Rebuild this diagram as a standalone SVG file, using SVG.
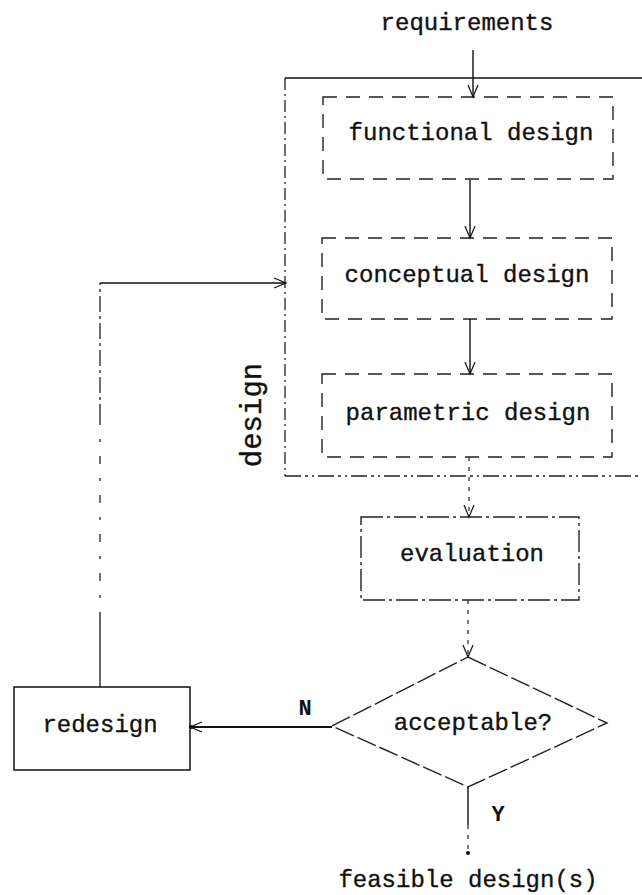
<svg xmlns="http://www.w3.org/2000/svg" width="642" height="895" viewBox="0 0 642 895">
<style>
text{font-family:"Liberation Mono","Courier New",monospace;font-size:24px;fill:#111;stroke:#111;stroke-width:0.35}
.c{text-anchor:middle}
.lbl{font-weight:bold;font-size:22px;stroke-width:0}
.box{fill:none;stroke:#222;stroke-width:1.4;stroke-dasharray:14 9}
.solid{fill:none;stroke:#111;stroke-width:1.5}
.dash{fill:none;stroke:#222;stroke-width:1.3;stroke-dasharray:12 4 2 4}
.dot{fill:none;stroke:#333;stroke-width:1.3;stroke-dasharray:4 6}
.conn{fill:none;stroke:#111;stroke-width:1.4}
</style>
<defs>
<marker id="arr" viewBox="-14 -7 16 14" refX="0" refY="0" markerWidth="16" markerHeight="14" markerUnits="userSpaceOnUse" orient="auto">
<path d="M-12,-5 L0,0 L-12,5" fill="none" stroke="#111" stroke-width="1.2"/>
</marker>
</defs>
<rect width="642" height="895" fill="#fff"/>

<g id="design-group">
<line class="solid" x1="285" y1="78" x2="642" y2="78"/>
<line class="dash" x1="285" y1="78" x2="285" y2="476"/>
<line class="dash" x1="285" y1="476" x2="642" y2="476" style="stroke-dasharray:16 4 3 4 2 4"/>
<text transform="translate(261,415) rotate(-90)" class="c" style="font-size:29px">design</text>
</g>

<g id="requirements"><text class="c" x="467" y="30">requirements</text></g>

<g id="functional-design">
<rect class="box" x="323" y="97" width="290" height="82"/>
<text class="c" x="471" y="140">functional design</text>
</g>

<g id="conceptual-design">
<rect class="box" x="322" y="238" width="290" height="81"/>
<text class="c" x="467" y="282">conceptual design</text>
</g>

<g id="parametric-design">
<rect class="box" x="322" y="374" width="290" height="83"/>
<text class="c" x="468" y="420">parametric design</text>
</g>

<g id="evaluation">
<rect class="box" x="361" y="517" width="218" height="83" style="stroke-dasharray:22 4 3 4"/>
<text class="c" x="472" y="561">evaluation</text>
</g>

<g id="acceptable">
<path class="box" d="M468,657 L607,723 L468,787 L332,726 Z" style="stroke-dasharray:20 4"/>
<text class="c" x="473" y="730">acceptable?</text>
</g>

<g id="redesign">
<rect class="solid" x="14" y="687" width="176" height="83"/>
<text class="c" x="100" y="732">redesign</text>
</g>

<g id="feasible"><text class="c" x="468" y="887">feasible design(s)</text></g>

<g id="connectors">
<line class="conn" x1="473" y1="50" x2="473" y2="97" marker-end="url(#arr)"/>
<line class="conn" x1="470" y1="180" x2="470" y2="238" marker-end="url(#arr)"/>
<line class="conn" x1="470" y1="319" x2="470" y2="374" marker-end="url(#arr)"/>
<line class="dot" x1="469" y1="457" x2="469" y2="517" marker-end="url(#arr)"/>
<line class="dot" x1="468" y1="600" x2="468" y2="657" marker-end="url(#arr)"/>
<line class="conn" x1="332" y1="727" x2="190" y2="727" marker-end="url(#arr)" style="stroke-width:2"/>
<circle cx="191" cy="727" r="2" fill="#111"/>
<line class="solid" x1="100" y1="687" x2="100" y2="620" style="stroke-width:1.3"/>
<line class="dash" x1="100" y1="620" x2="100" y2="420" style="stroke-dasharray:8 14 3 14"/>
<line class="dash" x1="100" y1="420" x2="100" y2="283" style="stroke-dasharray:16 4 3 4"/>
<line class="conn" x1="100" y1="283" x2="286" y2="283" marker-end="url(#arr)"/>
<line class="conn" x1="468" y1="787" x2="468" y2="825"/>
<line class="dot" x1="468" y1="825" x2="468" y2="855"/>
<circle cx="468" cy="853" r="2" fill="#111"/>
<text class="lbl" x="305" y="715" text-anchor="middle">N</text>
<text class="lbl" x="498" y="821" text-anchor="middle">Y</text>
</g>
</svg>
